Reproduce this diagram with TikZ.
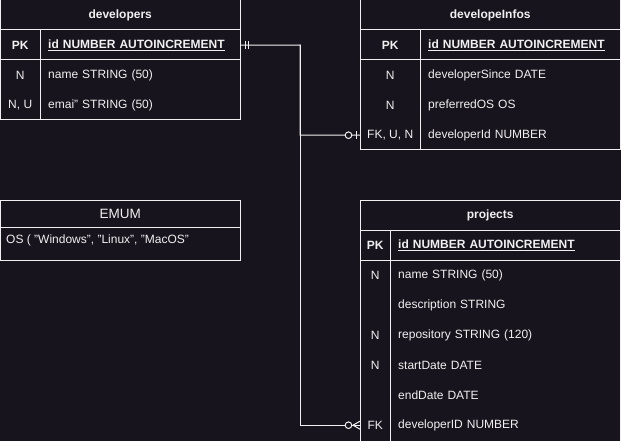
\documentclass[tikz,border=0pt]{standalone}
\usepackage{fontspec}
\setmainfont{Liberation Sans}
\usepackage{xcolor}
\usetikzlibrary{positioning,calc}
\definecolor{bgdark}{RGB}{24,20,29}
\definecolor{fgline}{RGB}{240,240,240}
\newcommand{\pktext}[1]{\textbf{\underline{#1}}}
\newcommand{\tblfont}{\fontsize{12}{14}\selectfont}

\begin{document}
\begin{tikzpicture}[x=1pt, y=-1pt,
      font=\tblfont,
      every node/.style={text=fgline, inner sep=0pt},
      tblhead/.style={minimum width=#1, minimum height=30pt, anchor=north west, font=\tblfont\bfseries},
      keycell/.style={minimum width=#1, minimum height=30pt, anchor=north west},
      pkkey/.style={keycell=#1, font=\tblfont\bfseries},
      fieldcell/.style={text width=#1, minimum height=30pt, inner xsep=8pt, align=left, anchor=north west},
      border/.style={draw=fgline, line width=1pt},
      conn/.style={draw=fgline, line width=1pt}
    ]
      \fill[bgdark] (0,0) rectangle (621,441);
      \useasboundingbox (0,0) rectangle (621,441);

      % developers
      \node[tblhead=240pt] (devHead) at (0,0) {developers};
      \node[pkkey=40pt] (devPKkey) at (0,30) {PK};
      \node[fieldcell=184pt] (devPK) at (40,30) {\pktext{id NUMBER AUTOINCREMENT}};
      \node[keycell=40pt] (devNamekey) at (0,60) {N};
      \node[fieldcell=184pt] (devName) at (40,60) {name STRING (50)};
      \node[keycell=40pt] (devMailkey) at (0,90) {N, U};
      \node[fieldcell=184pt] (devMail) at (40,90) {emai" STRING (50)};
      \draw[border] (0,0) rectangle (240,120);
      \draw[border] (0,30) -- (240,30) (0,60) -- (240,60) (40,30) -- (40,120);

      % developeInfos
      \node[tblhead=260pt] (infHead) at (360,0) {developeInfos};
      \node[pkkey=60pt] (infPKkey) at (360,30) {PK};
      \node[fieldcell=184pt] (infPK) at (420,30) {\pktext{id NUMBER AUTOINCREMENT}};
      \node[keycell=60pt] (infSincekey) at (360,60) {N};
      \node[fieldcell=184pt] (infSince) at (420,60) {developerSince DATE};
      \node[keycell=60pt] (infOSkey) at (360,90) {N};
      \node[fieldcell=184pt] (infOS) at (420,90) {preferredOS OS};
      \node[keycell=60pt] (infFKkey) at (360,120) {FK, U, N};
      \node[fieldcell=184pt] (infFK) at (420,120) {developerId NUMBER};
      \draw[border] (360,0) rectangle (620,150);
      \draw[border] (360,30) -- (620,30) (360,60) -- (620,60) (420,30) -- (420,150);

      % EMUM
      \node[minimum width=240pt, minimum height=27pt, anchor=north west, font=\fontsize{13.5}{15}\selectfont] (enumHead) at (0,200) {EMUM};
      \node[anchor=west] (enumBody) at (6,240) {OS ( "Windows", "Linux", "MacOS"};
      \draw[border] (0,200) rectangle (240,260);
      \draw[border] (0,227) -- (240,227);

      % projects
      \node[tblhead=260pt] (prjHead) at (360,200) {projects};
      \node[pkkey=30pt] (prjPKkey) at (360,230) {PK};
      \node[fieldcell=214pt] (prjPK) at (390,230) {\pktext{id NUMBER AUTOINCREMENT}};
      \node[keycell=30pt] (prjNamekey) at (360,260) {N};
      \node[fieldcell=214pt] (prjName) at (390,260) {name STRING (50)};
      \node[keycell=30pt] (prjDesckey) at (360,290) {};
      \node[fieldcell=214pt] (prjDesc) at (390,290) {description STRING};
      \node[keycell=30pt] (prjRepokey) at (360,320) {N};
      \node[fieldcell=214pt] (prjRepo) at (390,320) {repository STRING (120)};
      \node[keycell=30pt] (prjStartkey) at (360,350) {N};
      \node[fieldcell=214pt] (prjStart) at (390,350) {startDate DATE};
      \node[keycell=30pt] (prjEndkey) at (360,380) {};
      \node[fieldcell=214pt] (prjEnd) at (390,380) {endDate DATE};
      \node[keycell=30pt] (prjFKkey) at (360,410) {FK};
      \node[fieldcell=214pt] (prjFK) at (390,410) {developerID NUMBER};
      \draw[border] (360,200) rectangle (620,446);
      \draw[border] (360,230) -- (620,230) (360,260) -- (620,260) (390,230) -- (390,446);

      % relations
      \coordinate (bend) at (300,45);
      \draw[conn] (devPK.east) -- (bend) |- (infFKkey.west);
      \draw[conn] (bend) |- (prjFKkey.west);
      % one and only one
      \draw[conn] ($(devPK.east)+(5,-4)$) -- ++(0,8);
      \draw[conn] ($(devPK.east)+(8,-4)$) -- ++(0,8);
      % zero or one
      \draw[conn] ($(infFKkey.west)+(-3.5,-4)$) -- ++(0,8);
      \draw[conn, fill=bgdark] ($(infFKkey.west)+(-11.5,0)$) circle (3.3);
      % zero or many
      \draw[conn] ($(prjFKkey.west)+(-7,0)$) -- ++(7,-4);
      \draw[conn] ($(prjFKkey.west)+(-7,0)$) -- ++(7,4);
      \draw[conn, fill=bgdark] ($(prjFKkey.west)+(-11.5,0)$) circle (3.3);
    \end{tikzpicture}
\end{document}
